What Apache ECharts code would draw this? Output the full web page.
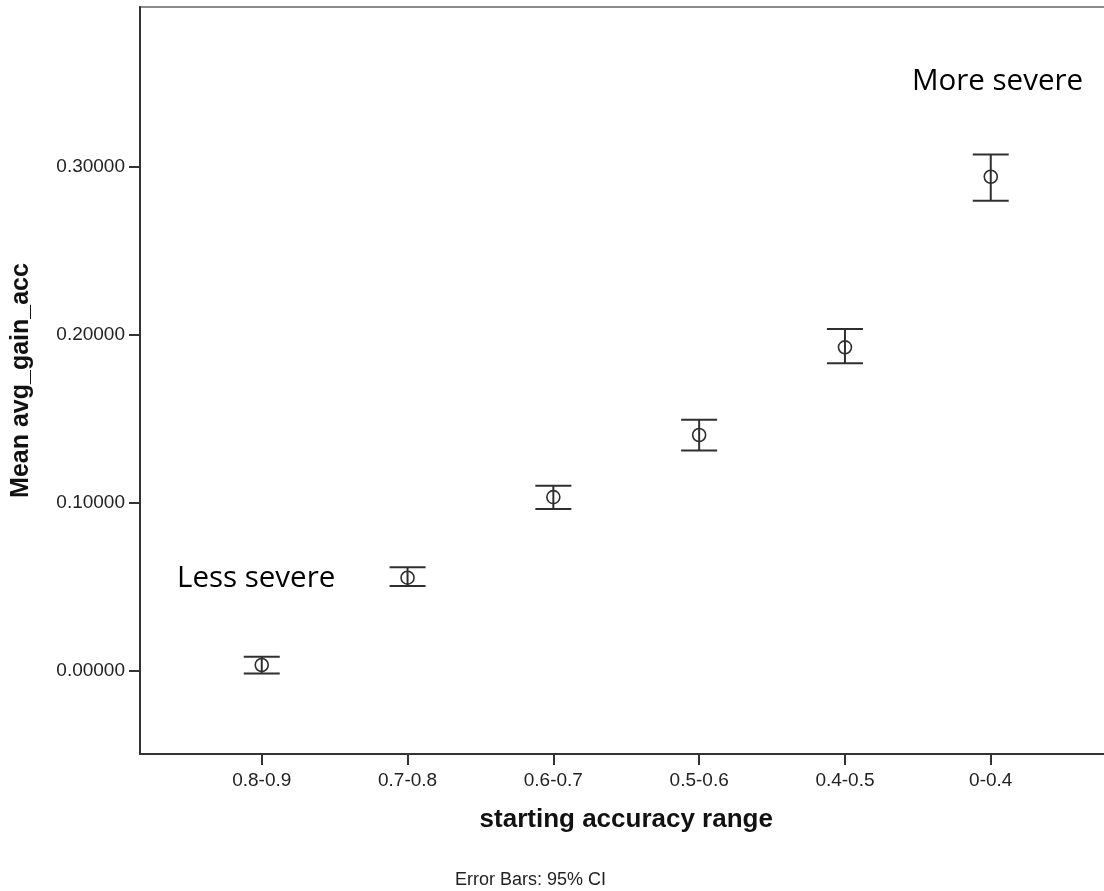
<!DOCTYPE html>
<html>
<head>
<meta charset="utf-8">
<title>Mean avg_gain_acc by starting accuracy range</title>
<script src="https://cdn.jsdelivr.net/npm/echarts@6/dist/echarts.min.js"></script>
<style>
  html, body { margin: 0; padding: 0; background: #fff; }
  #chart { width: 1104px; height: 891px; }
</style>
</head>
<body>
<div id="chart"></div>
<script>
// Starting accuracy bins, ordered from least to most severe
const categories = ['0.8-0.9', '0.7-0.8', '0.6-0.7', '0.5-0.6', '0.4-0.5', '0-0.4'];
// Mean gain per bin and its 95% confidence interval
const means = [0.0033, 0.0553, 0.1033, 0.1403, 0.1925, 0.2941];
const ciLower = [-0.0017, 0.0503, 0.0962, 0.1311, 0.1830, 0.2798];
const ciUpper = [0.0082, 0.0615, 0.1101, 0.1494, 0.2034, 0.3074];
// Y axis ticks
const yTicks = [0, 0.1, 0.2, 0.3];

const idx = categories.map((_, i) => i);
const axisText = '#222';
const markColor = '#2f2f2f';

const chart = echarts.init(document.getElementById('chart'), null, { renderer: 'canvas' });

chart.setOption({
  animation: false,
  backgroundColor: '#fff',
  grid: {
    left: 140, top: 7, right: -8.5, bottom: 137,
    show: true, borderColor: '#8c8c8c', borderWidth: 2,
    containLabel: false, outerBoundsMode: 'none'
  },
  xAxis: {
    type: 'value',
    min: -0.835, max: 5.835,
    name: 'starting accuracy range',
    nameLocation: 'middle',
    nameGap: 53,
    nameMoveOverlap: false,
    nameTextStyle: { fontFamily: 'Liberation Sans', fontWeight: 'bold', fontSize: 26, color: '#111' },
    axisLine: { show: true, onZero: false, lineStyle: { color: '#333', width: 2 } },
    axisTick: { show: true, customValues: idx, length: 11, lineStyle: { color: '#333', width: 2 } },
    axisLabel: {
      customValues: idx, margin: 17,
      fontFamily: 'Liberation Sans', fontSize: 19, color: axisText,
      formatter: v => categories[Math.round(v)]
    },
    splitLine: { show: false }
  },
  yAxis: {
    type: 'value',
    min: -0.0497, max: 0.3952,
    name: 'Mean avg_gain_acc',
    nameLocation: 'middle',
    nameGap: 106,
    nameMoveOverlap: false,
    nameTextStyle: { fontFamily: 'Liberation Sans', fontWeight: 'bold', fontSize: 25, color: '#111' },
    axisLine: { show: true, onZero: false, lineStyle: { color: '#333', width: 2 } },
    axisTick: { show: true, customValues: yTicks, length: 11, lineStyle: { color: '#333', width: 2 } },
    axisLabel: {
      customValues: yTicks, margin: 15,
      fontFamily: 'Liberation Sans', fontSize: 19, color: axisText,
      formatter: v => v.toFixed(5)
    },
    splitLine: { show: false }
  },
  series: [
    {
      // 95% CI whiskers with caps
      type: 'custom',
      data: idx.map(i => [i, ciLower[i], ciUpper[i]]),
      renderItem: function (params, api) {
        const lo = api.coord([api.value(0), api.value(1)]);
        const hi = api.coord([api.value(0), api.value(2)]);
        const hw = 18;
        const st = { stroke: markColor, lineWidth: 2 };
        return {
          type: 'group',
          children: [
            { type: 'line', shape: { x1: lo[0], y1: lo[1], x2: hi[0], y2: hi[1] }, style: st },
            { type: 'line', shape: { x1: hi[0] - hw, y1: hi[1], x2: hi[0] + hw, y2: hi[1] }, style: st },
            { type: 'line', shape: { x1: lo[0] - hw, y1: lo[1], x2: lo[0] + hw, y2: lo[1] }, style: st }
          ]
        };
      },
      z: 2
    },
    {
      // Bin means as open circles
      type: 'scatter',
      data: idx.map(i => [i, means[i]]),
      symbol: 'circle',
      symbolSize: 13,
      itemStyle: { color: 'rgba(0,0,0,0)', borderColor: markColor, borderWidth: 1.6, opacity: 1 },
      z: 3
    }
  ],
  graphic: [
    {
      type: 'text', left: 177, top: 564,
      style: { text: 'Less severe', font: '29.5px "Open Sans"', fill: '#000' }
    },
    {
      type: 'text', left: 912, top: 67,
      style: { text: 'More severe', font: '29.5px "Open Sans"', fill: '#000' }
    },
    {
      type: 'text', left: 455, top: 871,
      style: { text: 'Error Bars: 95% CI', font: '18px "Liberation Sans"', fill: '#222' }
    }
  ]
});
</script>
</body>
</html>
